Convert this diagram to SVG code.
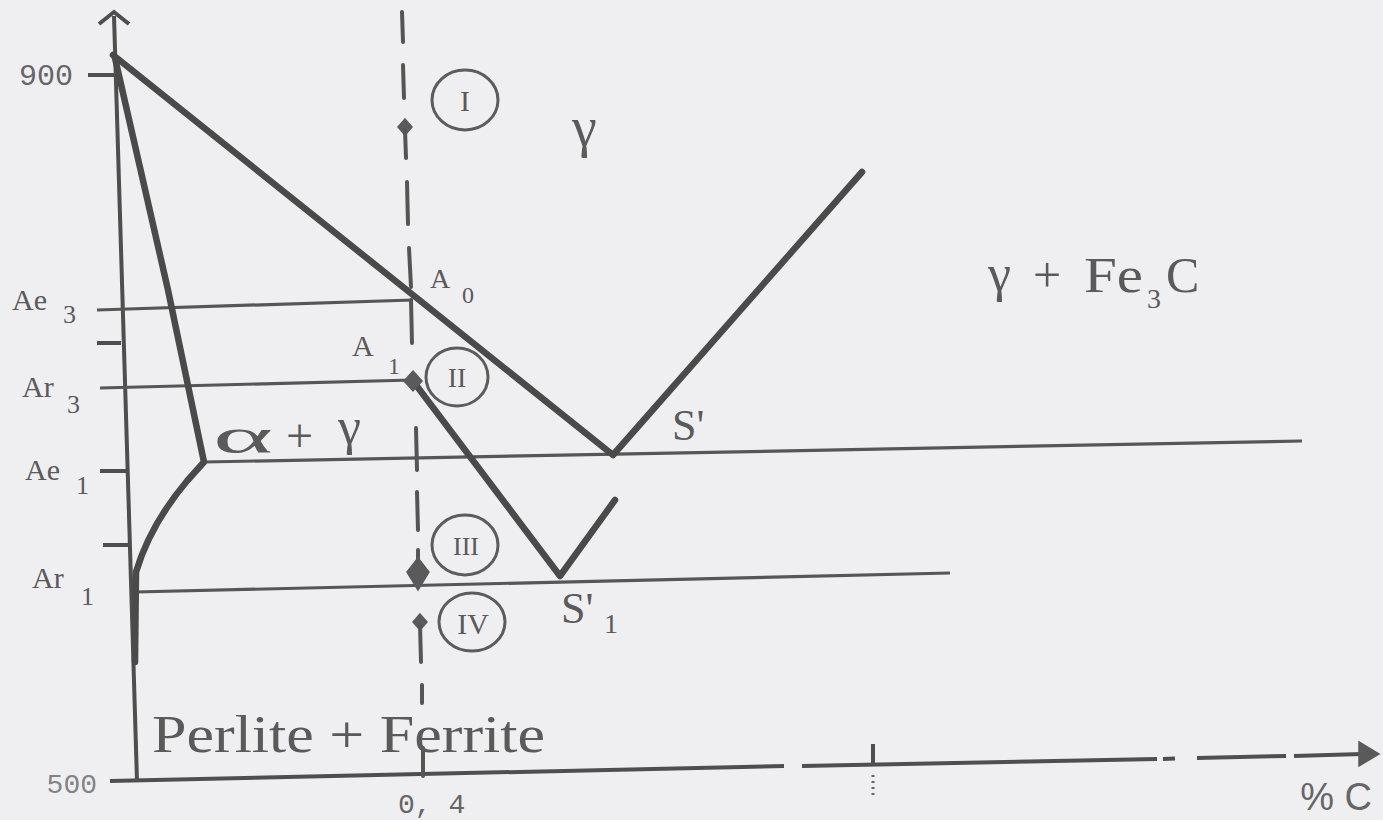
<svg xmlns="http://www.w3.org/2000/svg" width="1383" height="820" viewBox="0 0 1383 820">
<defs>
<style>
.bg{fill:#efeff2}
.thick{fill:none;stroke:#4a4a4a;stroke-width:6.5;stroke-linecap:round;stroke-linejoin:round}
.thin{fill:none;stroke:#565656;stroke-width:3.2;stroke-linecap:butt}
.axis{fill:none;stroke:#4e4e4e;stroke-width:4}
.dash{fill:none;stroke:#555;stroke-width:4;stroke-linecap:round}
.mark{fill:#5a5a5a;stroke:#5a5a5a;stroke-width:1.5}
.circ{fill:none;stroke:#5c5c5c;stroke-width:3}
.t{font-family:"Liberation Serif","Times New Roman",serif;fill:#5a5a5a}
.m{font-family:"Liberation Mono","Courier New",monospace;fill:#666}
.s{font-family:"Liberation Sans",Arial,sans-serif;fill:#666}
.dot{fill:none;stroke:#666;stroke-width:3;stroke-dasharray:2 4}
</style>
</defs>
<rect class="bg" x="0" y="0" width="1383" height="820"/>

<g id="axes">
  <line class="axis" x1="114" y1="16" x2="137" y2="781"/>
  <polyline class="axis" points="99,24 114,12 129,24"/>
  <line class="axis" x1="110" y1="781" x2="784" y2="766"/>
  <line class="axis" x1="802" y1="766" x2="1157" y2="759"/>
  <line class="axis" x1="1163" y1="759" x2="1175" y2="758.5"/>
  <line class="axis" x1="1197" y1="758" x2="1286" y2="756"/>
  <line class="axis" x1="1294" y1="756" x2="1362" y2="754"/>
  <polygon class="mark" points="1359,742 1379,754 1359,766"/>
  <line class="axis" x1="873" y1="744" x2="873" y2="764"/>
  <line class="dot" x1="873" y1="775" x2="873" y2="797"/>
  <line class="axis" x1="88" y1="75" x2="115" y2="75"/>
  <line class="axis" x1="97" y1="343" x2="121" y2="343"/>
  <line class="axis" x1="100" y1="471" x2="126" y2="471"/>
  <line class="axis" x1="103" y1="545" x2="129" y2="545"/>
</g>

<g id="connectors">
  <line class="thin" x1="97" y1="310" x2="413" y2="300"/>
  <line class="thin" x1="100" y1="388" x2="413" y2="380"/>
  <line class="thin" x1="204" y1="462" x2="1302" y2="441"/>
  <line class="thin" x1="135" y1="592" x2="950" y2="573"/>
  <polyline class="thick" points="113,55 413,295 613,455 862,172"/>
  <path class="thick" d="M115,58 L168,290 L204,462 L187,481 Q150,525 136,572 L135,662" stroke-width="7"/>
  <polyline class="thick" points="413,381 560,576 615,500" stroke-width="7"/>
</g>

<g id="dashed-line">
  <line class="dash" x1="402" y1="12" x2="403" y2="42"/>
  <line class="dash" x1="403" y1="65" x2="404" y2="98"/>
  <polygon class="mark" points="405,119 412,127 405,135 398,127"/>
  <line class="dash" x1="405" y1="130" x2="406" y2="158"/>
  <line class="dash" x1="407" y1="182" x2="408" y2="224"/>
  <line class="dash" x1="409" y1="248" x2="411" y2="287"/>
  <line class="dash" x1="411" y1="300" x2="412" y2="343"/>
  <polygon class="mark" points="413,371 422,381 413,391 404,381"/>
  <line class="dash" x1="416" y1="428" x2="417" y2="470"/>
  <line class="dash" x1="417" y1="492" x2="418" y2="530"/>
  <line class="dash" x1="418" y1="550" x2="418" y2="562"/>
  <polygon class="mark" points="418,558 429,572 418,590 407,572"/>
  <polygon class="mark" points="420,614 427,622 420,630 413,622"/>
  <line class="dash" x1="420" y1="625" x2="421" y2="662"/>
  <line class="dash" x1="422" y1="685" x2="422" y2="703"/>
  <line class="dash" x1="423" y1="748" x2="423" y2="776"/>
</g>

<g id="stage-I">
  <ellipse class="circ" cx="465" cy="100" rx="33" ry="30"/>
  <text class="t" x="465" y="111" font-size="30" text-anchor="middle">I</text>
</g>
<g id="stage-II">
  <ellipse class="circ" cx="457" cy="377" rx="31" ry="29"/>
  <text class="t" x="457" y="387" font-size="28" text-anchor="middle">II</text>
</g>
<g id="stage-III">
  <ellipse class="circ" cx="465" cy="545" rx="33" ry="30"/>
  <text class="t" x="466" y="555" font-size="26" text-anchor="middle">III</text>
</g>
<g id="stage-IV">
  <ellipse class="circ" cx="472" cy="622" rx="33" ry="29"/>
  <text class="t" x="473" y="634" font-size="30" text-anchor="middle">IV</text>
</g>

<g id="labels">
  <text class="m" x="73" y="85" font-size="30" text-anchor="end">900</text>
  <text class="m" x="97" y="793" font-size="28" text-anchor="end" fill-opacity="0.8">500</text>
  <text class="m" x="398" y="813" font-size="28">0, 4</text>
  <text class="s" x="1372" y="810" font-size="38" text-anchor="end">% C</text>

  <text class="t" x="12" y="310" font-size="30">Ae</text>
  <text class="t" x="63" y="323" font-size="26">3</text>
  <text class="t" x="22" y="397" font-size="30">Ar</text>
  <text class="t" x="67" y="413" font-size="26">3</text>
  <text class="t" x="25" y="480" font-size="30">Ae</text>
  <text class="t" x="76" y="494" font-size="26">1</text>
  <text class="t" x="32" y="588" font-size="30">Ar</text>
  <text class="t" x="81" y="605" font-size="26">1</text>

  <text class="t" x="430" y="288" font-size="28">A</text>
  <text class="t" x="462" y="303" font-size="24">0</text>
  <text class="t" x="352" y="356" font-size="30">A</text>
  <text class="t" x="388" y="374" font-size="24">1</text>

  <text class="t" x="572" y="146" font-size="56">γ</text>

  <text class="t" x="988" y="291" font-size="52">γ</text>
  <text class="t" x="1033" y="292" font-size="50">+</text>
  <text class="t" x="1084" y="292" font-size="50" textLength="59" lengthAdjust="spacingAndGlyphs">Fe</text>
  <text class="t" x="1147" y="308" font-size="28">3</text>
  <text class="t" x="1166" y="292" font-size="50">C</text>

  <text class="t" x="213" y="453" font-size="50" textLength="60" lengthAdjust="spacingAndGlyphs" fill="#666">α</text>
  <text class="t" x="286" y="452" font-size="48">+</text>
  <text class="t" x="338" y="444" font-size="52">γ</text>

  <text class="t" x="672" y="440" font-size="44">S'</text>
  <text class="t" x="561" y="623" font-size="44">S'</text>
  <text class="t" x="604" y="633" font-size="28">1</text>

  <text class="t" x="152" y="752" font-size="52" textLength="393" lengthAdjust="spacingAndGlyphs">Perlite + Ferrite</text>
</g>
</svg>
